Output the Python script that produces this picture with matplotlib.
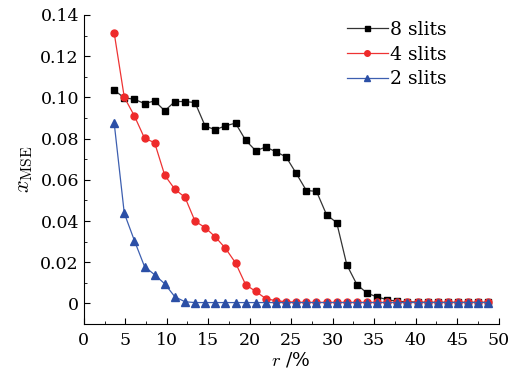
import matplotlib.pyplot as plt
from matplotlib.ticker import MultipleLocator

# r values (percent)
r = [3.66, 4.88, 6.10, 7.32, 8.54, 9.76, 10.98, 12.20, 13.41, 14.63,
     15.85, 17.07, 18.29, 19.51, 20.73, 21.95, 23.17, 24.39, 25.61, 26.83,
     28.05, 29.27, 30.49, 31.71, 32.93, 34.15, 35.37, 36.59, 37.80, 39.02,
     40.24, 41.46, 42.68, 43.90, 45.12, 46.34, 47.56, 48.78]

mse_8 = [0.1035, 0.0998, 0.0991, 0.0970, 0.0983, 0.0935, 0.0980, 0.0980, 0.0975, 0.0861,
         0.0843, 0.0862, 0.0875, 0.0792, 0.0741, 0.0759, 0.0736, 0.0711, 0.0631, 0.0548,
         0.0544, 0.0430, 0.0392, 0.0187, 0.0091, 0.0050, 0.0031, 0.0018, 0.0010, 0.0008,
         0.0006, 0.0005, 0.0005, 0.0005, 0.0005, 0.0005, 0.0005, 0.0005]

mse_4 = [0.1314, 0.1001, 0.0910, 0.0802, 0.0780, 0.0622, 0.0554, 0.0515, 0.0399, 0.0368,
         0.0323, 0.0268, 0.0197, 0.0091, 0.0058, 0.0023, 0.0013, 0.0008, 0.0006, 0.0005,
         0.0005, 0.0005, 0.0005, 0.0005, 0.0005, 0.0005, 0.0005, 0.0005, 0.0005, 0.0005,
         0.0005, 0.0005, 0.0005, 0.0005, 0.0005, 0.0005, 0.0005, 0.0005]

mse_2 = [0.0877, 0.0438, 0.0305, 0.0179, 0.0139, 0.0095, 0.0032, 0.0008, 0.0004, 0.0004,
         0.0004, 0.0004, 0.0004, 0.0004, 0.0004, 0.0004, 0.0004, 0.0004, 0.0004, 0.0004,
         0.0004, 0.0004, 0.0004, 0.0004, 0.0004, 0.0004, 0.0004, 0.0004, 0.0004, 0.0004,
         0.0004, 0.0004, 0.0004, 0.0004, 0.0004, 0.0004, 0.0004, 0.0004]

plt.rcParams['font.family'] = 'DejaVu Serif'
plt.rcParams['mathtext.fontset'] = 'cm'

fig = plt.figure(figsize=(5.27, 3.75), dpi=100)
ax = fig.add_axes([0.159, 0.136, 0.787, 0.824])

ax.plot(r, mse_8, color='#333333', lw=0.9, marker='s', ms=4.5, mfc='black', mec='black', label='8 slits')
ax.plot(r, mse_4, color='#ee3333', lw=0.9, marker='o', ms=5, mfc='#ee2a2a', mec='#ee2a2a', label='4 slits')
ax.plot(r, mse_2, color='#3d5fb0', lw=0.9, marker='^', ms=6, mfc='#2b4fa6', mec='#2b4fa6', label='2 slits')

ax.set_xlim(0, 50)
ax.set_ylim(-0.01, 0.14)
ax.spines['top'].set_visible(False)
ax.spines['right'].set_visible(False)
ax.spines['left'].set_bounds(-0.01, 0.14)

ax.xaxis.set_major_locator(MultipleLocator(5))
ax.xaxis.set_minor_locator(MultipleLocator(2.5))
ax.yaxis.set_major_locator(MultipleLocator(0.02))
ax.yaxis.set_minor_locator(MultipleLocator(0.01))
ax.tick_params(which='both', direction='in', labelsize=12.5)
ax.tick_params(which='major', length=4)
ax.tick_params(which='minor', length=2.5)
ax.tick_params(axis='x', pad=6)
ax.set_yticks([0, 0.02, 0.04, 0.06, 0.08, 0.10, 0.12, 0.14])
ax.set_yticklabels(['0', '0.02', '0.04', '0.06', '0.08', '0.10', '0.12', '0.14'])

ax.set_xlabel(r'$r$ /%', fontsize=13.5, labelpad=1)
ax.set_ylabel(r'$x_{\rm MSE}$', fontsize=16, labelpad=4)

ax.legend(loc='upper right', bbox_to_anchor=(0.915, 1.035), frameon=False, fontsize=13.5,
          handlelength=2.2, handletextpad=0.1, labelspacing=0.35, markerscale=0.8)

fig.savefig('out.png', dpi=100)
